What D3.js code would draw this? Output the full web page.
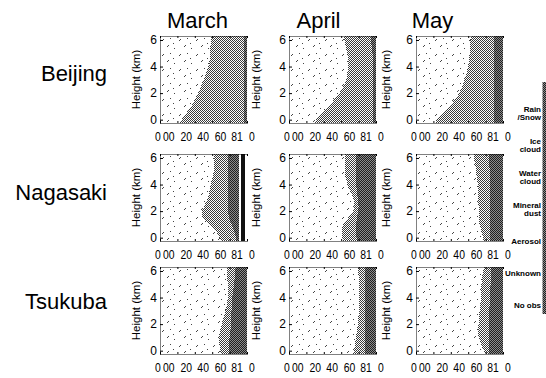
<!DOCTYPE html>
<html>
<head>
<meta charset="utf-8">
<script src="https://cdn.jsdelivr.net/npm/d3@7"></script>
<style>
  body { margin: 0; background: #fff; }
  svg { display: block; font-family: "Liberation Sans", Arial, Helvetica, sans-serif; }
</style>
</head>
<body>
<svg id="chart" width="546" height="378"></svg>
<script>
// region data
const months = ['March', 'April', 'May'];
const stations = ['Beijing', 'Nagasaki', 'Tsukuba'];
const heights = [0, 0.5, 1, 1.5, 2, 2.5, 3, 3.5, 4, 4.5, 5, 5.5, 6];
const yTicks = [0, 2, 4, 6];
const frameTicks = [0, 20, 40, 60, 80, 100];
const xTickAt = [-3, 9.5, 29.5, 49, 69, 88, 105];
const xTickLabels = ['0', '00', '20', '40', '60', '81', '0'];
const legendLabels = [['Rain', '/Snow'], ['Ice', 'cloud'], ['Water', 'cloud'], ['Mineral', 'dust'], ['Aerosol'], ['Unknown'], ['No obs']];

// right edge (%) of each shading band, one value per height level
const full = [100, 100, 100, 100, 100, 100, 100, 100, 100, 100, 100, 100, 100];

const bjMarLight = [22, 30, 36, 40, 44, 47, 50, 53, 55, 58, 57, 58, 59];
const bjMarMid = [97, 97, 97, 97, 97, 97, 97, 97, 97, 97, 97, 97, 97];
const bjAprLight = [29, 36, 45, 52, 58, 63, 66, 67, 68, 68, 67, 65, 63];
const bjAprMid = [97, 97, 97, 97, 97, 97, 97, 97, 97, 97, 96, 95, 94];
const bjMayLight = [21, 31, 38, 45, 50, 53, 56, 58, 60, 61, 62, 62, 63];
const bjMayMid = [90, 90, 90, 90, 90, 90, 90, 90, 90, 90, 90, 90, 90];

const ngMarLight = [70, 65, 56, 47, 48, 52, 55, 57, 58, 60, 62, 62, 62];
const ngMarMid = [88, 86, 82, 79, 78, 78, 78, 78, 78, 78, 78, 78, 78];
const ngMarDeep = [91, 91, 91, 91, 91, 91, 91, 91, 91, 91, 91, 91, 91];
const ngMarGap = [93, 93, 93, 93, 93, 93, 93, 93, 93, 93, 93, 93, 93];
const ngMarBlack = [98, 98, 98, 98, 98, 98, 98, 98, 98, 98, 98, 98, 98];
const ngAprLight = [62, 60, 62, 68, 74, 76, 74, 70, 67, 65, 64, 64, 64];
const ngAprMid = [78, 77, 77, 78, 80, 80, 79, 78, 77, 77, 77, 77, 77];
const ngMayLight = [78, 75, 73, 72, 72, 72, 71, 71, 71, 70, 69, 68, 66];
const ngMayMid = [85, 85, 85, 85, 85, 85, 85, 85, 85, 85, 85, 84, 84];

const tkMarLight = [70, 68, 67, 69, 71, 73, 75, 77, 78, 78, 78, 77, 77];
const tkMarMid = [79, 79, 80, 81, 82, 82, 82, 83, 83, 84, 85, 86, 87];
const tkAprLight = [74, 76, 77, 78, 79, 80, 80, 81, 81, 81, 81, 80, 79];
const tkAprMid = [87, 87, 87, 87, 87, 87, 87, 87, 87, 87, 87, 87, 87];
const tkMayLight = [80, 74, 72, 71, 72, 72, 73, 74, 75, 75, 75, 76, 78];
const tkMayMid = [84, 84, 84, 84, 84, 84, 84, 85, 85, 85, 86, 86, 86];
// endregion

// bands per panel, left to right: [fill, right edge]
const panelBands = [
  [
    [['light', bjMarLight], ['mid', bjMarMid], ['deep', full]],
    [['light', bjAprLight], ['mid', bjAprMid], ['deep', full]],
    [['light', bjMayLight], ['mid', bjMayMid], ['deep', full]],
  ],
  [
    [['light', ngMarLight], ['mid', ngMarMid], ['deep', ngMarDeep], ['gap', ngMarGap], ['black', ngMarBlack]],
    [['light', ngAprLight], ['mid', ngAprMid], ['deep', full]],
    [['light', ngMayLight], ['mid', ngMayMid], ['deep', full]],
  ],
  [
    [['light', tkMarLight], ['mid', tkMarMid], ['deep', full]],
    [['light', tkAprLight], ['mid', tkAprMid], ['deep', full]],
    [['light', tkMayLight], ['mid', tkMayMid], ['deep', full]],
  ],
];

// region layout
const colLeft = [160, 289, 416];
const rowTop = [36, 154, 267];
const boxW = 87;
const boxH = 87;
const titleShift = [6, 14, 27];
const yLabelOffset = [20, 29, 26];
const rowLabelY = [81, 200, 309];
// endregion

const svg = d3.select('#chart');
const defs = svg.append('defs');

function addChecker(id, bg, fg) {
  const p = defs.append('pattern')
    .attr('id', id)
    .attr('patternUnits', 'userSpaceOnUse')
    .attr('width', 2)
    .attr('height', 2);
  p.append('rect').attr('width', 2).attr('height', 2).attr('fill', bg);
  p.append('rect').attr('width', 1).attr('height', 1).attr('fill', fg);
  p.append('rect').attr('x', 1).attr('y', 1).attr('width', 1).attr('height', 1).attr('fill', fg);
}
addChecker('mid', '#ffffff', '#3a3a3a');
addChecker('deep', '#8c8c8c', '#1e1e1e');

// sparse specks for the light band
const speckle = defs.append('pattern')
  .attr('id', 'light')
  .attr('patternUnits', 'userSpaceOnUse')
  .attr('width', 17)
  .attr('height', 15);
speckle.append('rect').attr('width', 17).attr('height', 15).attr('fill', '#fff');
speckle.append('path')
  .attr('d', 'M2,4h1v1h-1z M3,3h1v1h-1z M10,2h1v1h-1z M7,10h1v1h-1z M8,9h1v1h-1z M14,12h1v1h-1z M13,7h1v1h-1z')
  .attr('fill', '#444');

const fills = {light: 'url(#light)', mid: 'url(#mid)', deep: 'url(#deep)', gap: '#fff', black: '#111'};

svg.selectAll('.month')
  .data(months)
  .join('text')
  .attr('class', 'month')
  .attr('x', (d, i) => colLeft[i] + boxW / 2 - titleShift[i])
  .attr('y', 28)
  .attr('text-anchor', 'middle')
  .attr('font-size', 22)
  .text(d => d);

svg.selectAll('.station')
  .data(stations)
  .join('text')
  .attr('class', 'station')
  .attr('x', 107)
  .attr('y', (d, i) => rowLabelY[i])
  .attr('text-anchor', 'end')
  .attr('font-size', 22)
  .text(d => d);

stations.forEach((station, r) => {
  months.forEach((month, c) => {
    const g = svg.append('g')
      .attr('transform', `translate(${colLeft[c]},${rowTop[r]})`);

    const x = d3.scaleLinear().domain([0, 100]).range([0, boxW]);
    const y = d3.scaleLinear().domain([-0.25, 6.3]).range([boxH, 0]);
    const last = heights.length - 1;

    const area = d3.area()
      .curve(d3.curveBasis)
      .y((d, i) => i === 0 ? boxH : i === last ? 0 : y(heights[i]))
      .x0(d => x(d[0]))
      .x1(d => x(d[1]));

    const clipId = `clip-${r}-${c}`;
    g.append('clipPath').attr('id', clipId)
      .append('rect').attr('width', boxW).attr('height', boxH);

    const plot = g.append('g').attr('clip-path', `url(#${clipId})`);
    let prev = heights.map(() => 0);
    panelBands[r][c].forEach(([key, edge]) => {
      const rows = heights.map((h, i) => [prev[i], edge[i]]);
      plot.append('path')
        .datum(rows)
        .attr('fill', fills[key])
        .attr('shape-rendering', 'crispEdges')
        .attr('d', area);
      prev = edge;
    });

    const yAxis = g.append('g')
      .call(d3.axisLeft(y).tickValues(yTicks).tickFormat(d3.format('d'))
        .tickSizeInner(-3).tickSizeOuter(0).tickPadding(3));
    yAxis.select('.domain').style('stroke-dasharray', '1,1');
    yAxis.selectAll('text').attr('font-size', 12).attr('font-family', null);

    const top = g.append('g')
      .call(d3.axisTop(x).tickValues(frameTicks).tickSizeInner(-2).tickSizeOuter(0).tickFormat(''));
    top.select('.domain').style('stroke-dasharray', '1,1');

    const bottom = g.append('g')
      .attr('transform', `translate(0,${boxH})`)
      .call(d3.axisBottom(x).tickValues(frameTicks).tickSizeInner(-2).tickSizeOuter(0).tickFormat(''));
    bottom.select('.domain').style('stroke-dasharray', '1,1');

    // the printed tick row is squeezed sideways
    const labels = g.append('g')
      .attr('transform', `translate(0,${boxH})`)
      .call(d3.axisBottom(x).tickValues(xTickAt).tickFormat((d, i) => xTickLabels[i]).tickSize(0).tickPadding(9));
    labels.select('.domain').remove();
    labels.selectAll('text')
      .attr('font-size', 13)
      .attr('font-family', null)
      .attr('transform', 'scale(0.8,1)');

    g.append('text')
      .attr('transform', `translate(${-yLabelOffset[c]},${boxH / 2}) rotate(-90)`)
      .attr('text-anchor', 'middle')
      .attr('font-size', 11.5)
      .text('Height (km)');
  });
});

// legend strip on the right edge
const ly = d3.scalePoint().domain(legendLabels.map((d, i) => i)).range([113, 305]);

svg.append('rect')
  .attr('x', 542.5)
  .attr('y', 82)
  .attr('width', 4)
  .attr('height', 232)
  .attr('fill', 'url(#deep)');

const legend = svg.selectAll('.legend')
  .data(legendLabels)
  .join('text')
  .attr('class', 'legend')
  .attr('x', 541)
  .attr('y', (d, i) => ly(i) - (d.length - 1) * 4 + 3)
  .attr('text-anchor', 'end')
  .attr('font-size', 8)
  .attr('font-weight', 'bold');

legend.selectAll('tspan')
  .data(d => d)
  .join('tspan')
  .attr('x', 541)
  .attr('dy', (d, i) => i === 0 ? 0 : 8)
  .text(d => d);
</script>
</body>
</html>
